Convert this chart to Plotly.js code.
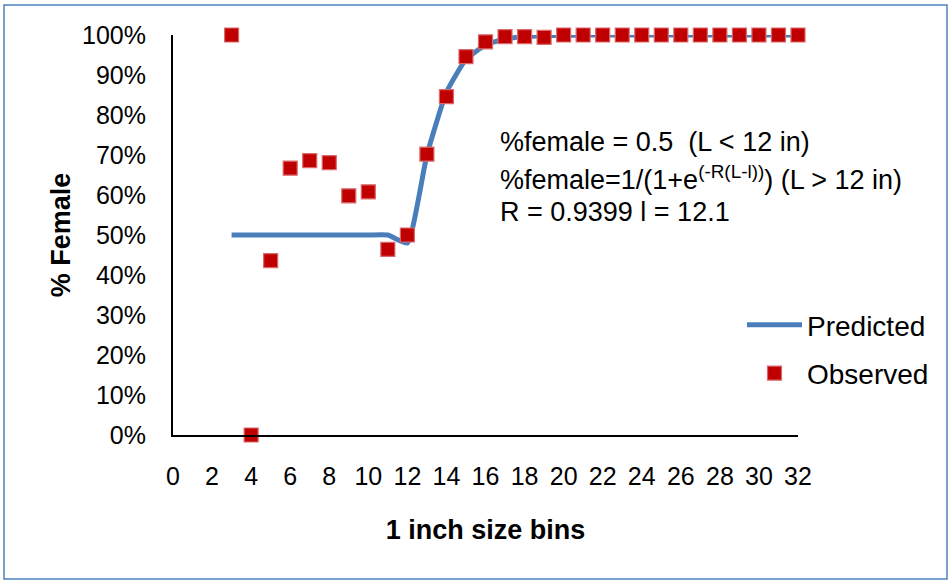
<!DOCTYPE html>
<html>
<head>
<meta charset="utf-8">
<script src="https://cdn.plot.ly/plotly-3.0.1.min.js"></script>
<style>html,body{margin:0;padding:0;background:#fff;}#chart{width:951px;height:581px;}</style>
</head>
<body>
<div id="chart"></div>
<script>
// Size bins (inches)
const predBins = [3,4,5,6,7,8,9,10,11,12,13,14,15,16,17,18,19,20,21,22,23,24,25,26,27,28,29,30,31,32];
const predicted = [0.5,0.5,0.5,0.5,0.5,0.5,0.5,0.5,0.5,0.48,0.70,0.857,0.939,0.975,0.99,0.996,0.998,0.999,1,1,1,1,1,1,1,1,1,1,1,1];
const obsBins = [3,4,5,6,7,8,9,10,11,12,13,14,15,16,17,18,19,20,21,22,23,24,25,26,27,28,29,30,31,32];
const observed = [1.0,0.0,0.436,0.667,0.686,0.681,0.598,0.608,0.464,0.50,0.702,0.846,0.946,0.983,0.996,0.996,0.994,1,1,1,1,1,1,1,1,1,1,1,1,1];
const xTicks = [0,2,4,6,8,10,12,14,16,18,20,22,24,26,28,30,32];
const yTicks = [0,0.1,0.2,0.3,0.4,0.5,0.6,0.7,0.8,0.9,1.0];
const annLines = [
  "%female = 0.5  (L &lt; 12 in)",
  "%female=1/(1+e<sup>(-R(L-l))</sup>) (L &gt; 12 in)",
  "R = 0.9399 l = 12.1"
];

const FONT = "Liberation Sans, Arial, sans-serif";
const L = 173, R = 798, T = 35, B = 435;
const px = v => (v - L) / (R - L);
const py = v => (B - v) / (B - T);

const traces = [
  {x: predBins, y: predicted, type: 'scatter', mode: 'lines', name: 'Predicted', legendgroup: 'a',
   line: {color: '#4a7ebb', width: 5, shape: 'spline', smoothing: 0.45}},
  {x: obsBins, y: observed, type: 'scatter', mode: 'markers', name: 'Observed', legendgroup: 'b',
   marker: {symbol: 'square', size: 14, color: '#c00000', line: {color: '#d9696b', width: 1.2}}, cliponaxis: false}
];

const annYs = [142, 178, 212];
const layout = {
  width: 951, height: 581,
  margin: {l: L, r: 951 - R, t: T, b: 581 - B},
  paper_bgcolor: '#fff', plot_bgcolor: '#fff',
  font: {family: FONT, size: 20, color: '#000'},
  showlegend: true,
  legend: {x: px(742), y: py(300), xanchor: 'left', yanchor: 'top', font: {size: 28, family: FONT, color: '#000'},
           bgcolor: 'rgba(0,0,0,0)', itemwidth: 55, tracegroupgap: 9, traceorder: 'grouped'},
  xaxis: {range: [0, 32], tickvals: xTicks, ticktext: xTicks.map(String), showgrid: false, zeroline: false,
          showline: true, linecolor: '#000', linewidth: 2, ticks: '', ticklabelstandoff: 18,
          tickfont: {size: 25, family: FONT, color: '#000'}, fixedrange: true,
          title: {text: '<b>1 inch size bins</b>', font: {size: 27, family: FONT, color: '#000'}, standoff: 31}},
  yaxis: {range: [0, 1], tickvals: yTicks, tickformat: '.0%', showgrid: false, zeroline: false,
          showline: true, linecolor: '#000', linewidth: 2, ticks: '', ticklabelstandoff: 20,
          tickfont: {size: 25, family: FONT, color: '#000'}, fixedrange: true,
          title: {text: '<b>% Female</b>', font: {size: 27, family: FONT, color: '#000'}, standoff: 4}},
  annotations: annLines.map((t, i) => ({
    text: t, xref: 'paper', yref: 'paper', x: px(498), y: py(annYs[i]), xanchor: 'left', yanchor: 'middle',
    showarrow: false, font: {size: 27, family: FONT, color: '#000'}
  })),
  shapes: [{type: 'rect', xref: 'paper', yref: 'paper', x0: px(4), x1: px(947), y0: py(579), y1: py(5),
            line: {color: '#4f81bd', width: 1.5}, layer: 'below'}]
};

Plotly.newPlot('chart', traces, layout, {displayModeBar: false, staticPlot: true});
</script>
</body>
</html>
